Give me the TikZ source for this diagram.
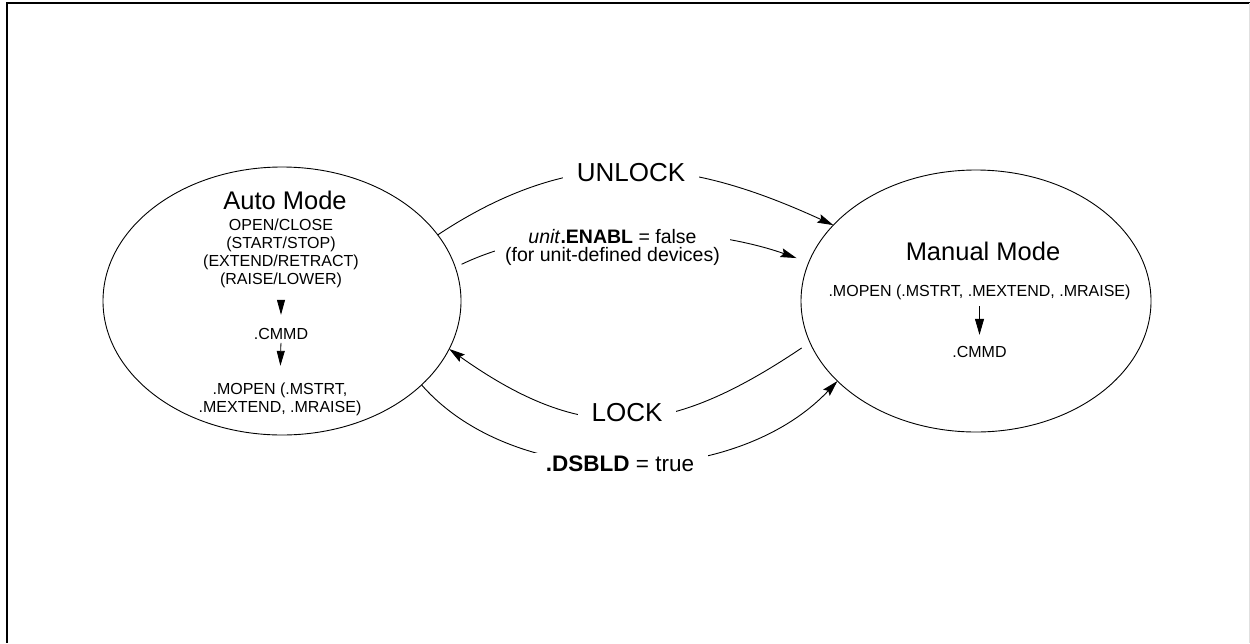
\documentclass[tikz,border=0pt]{standalone}
\usepackage{fontspec}
\setmainfont{Liberation Sans}
\usetikzlibrary{arrows.meta,shapes.geometric}

\begin{document}
\begin{tikzpicture}[x=1pt,y=-1pt,
  modebox/.style={draw, ellipse, inner sep=0pt, outer sep=0pt, line width=0.9pt},
  modetitle/.style={inner sep=0pt, font=\fontsize{25.5}{30}\selectfont},
  cmdtext/.style={inner sep=0pt, align=center, font=\fontsize{16}{18}\selectfont},
  flow/.style={line width=0.9pt, -{Stealth[length=16pt,width=9pt,inset=2.5pt]}},
  inarrow/.style={line width=0.8pt, -{Triangle[length=15pt,width=8pt]}},
  bigtext/.style={fill=white, inner xsep=14pt, inner ysep=3pt, font=\fontsize{26}{30}\selectfont},
  midtext/.style={fill=white, inner xsep=10pt, inner ysep=2pt, align=center, font=\fontsize{19.5}{18}\selectfont},
  lowtext/.style={fill=white, inner xsep=14pt, inner ysep=3pt, font=\fontsize{22.5}{26}\selectfont}]
\useasboundingbox (0,0) rectangle (1250,643);

% page frame
\draw[line width=2.5pt] (1250,3) -- (7,3) -- (7,643);
\draw[black!12, line width=0.8pt] (1249,3) -- (1249,643);

% the two modes
\node[modebox, minimum width=358pt, minimum height=268pt] (auto) at (282,301) {};
\node[modebox, minimum width=350pt, minimum height=262pt] (manual) at (976,301) {};

% Auto Mode contents
\node[modetitle] (autoT) at (285,200) {Auto Mode};
\node[cmdtext] (autoCmds) at (281,253) {OPEN/CLOSE\\(START/STOP)\\(EXTEND/RETRACT)\\(RAISE/LOWER)};
\node[cmdtext] (autoCmmd) at (281,334) {.CMMD};
\node[cmdtext] (autoOut) at (280,399.5) {.MOPEN (.MSTRT,\\.MEXTEND, .MRAISE)};
\draw[inarrow, shorten <=12.5pt, shorten >=13.3pt] (autoCmds.south) -- (autoCmmd.north);
\draw[inarrow, shorten <=3pt, shorten >=17pt] (autoCmmd.south) -- (autoOut.north);

% Manual Mode contents
\node[modetitle] (manualT) at (983,251.7) {Manual Mode};
\node[cmdtext, anchor=base] (manualOut) at (979.5,296.7) {.MOPEN (.MSTRT, .MEXTEND, .MRAISE)};
\node[cmdtext] (manualCmmd) at (979.5,351.7) {.CMMD};
\draw[line width=0.8pt, -{Triangle[length=16pt,width=9pt]}, shorten <=6pt, shorten >=11pt] (manualOut.south) -- (manualCmmd.north);

% transitions
\draw[flow] (auto.23) .. controls (578,142) and (689,159) .. (manual.152.7);
\draw[flow, shorten <=7pt, shorten >=13pt] (auto.11.3) .. controls (556,219) and (703,225) .. (manual.167);
\draw[flow, shorten <=10pt] (manual.-166.4) .. controls (669,437) and (586,446) .. (auto.-16.9);
\draw[flow] (auto.-31.7) .. controls (515,492) and (735,490) .. (manual.-150.7);

% transition labels
\node[bigtext] (unlock) at (631,172.5) {UNLOCK};
\node[midtext] (enabl) at (612.5,247.7) {\textit{unit}\textbf{.ENABL} = false\\(for unit-defined devices)};
\node[bigtext] (lock) at (627,412.5) {LOCK};
\node[lowtext] (dsbld) at (620,464) {\textbf{.DSBLD} = true};
\end{tikzpicture}
\end{document}
